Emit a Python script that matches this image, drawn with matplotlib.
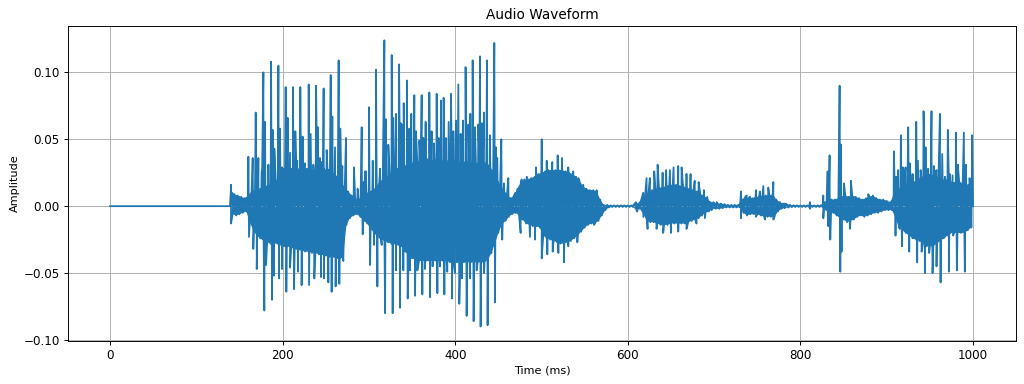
import numpy as np
import matplotlib
matplotlib.use("Agg")
import matplotlib.pyplot as plt

# Amplitudes are in thousandths; times in ms
silence_t = [0, 60, 139]
silence_a = [0, 0, 0]

core_hi_start, core_step = 140, 4
core_hi = [
    12, 9, 8, 7, 6, 8, 11, 12, 13, 14,
    15, 16, 17, 19, 21, 22, 23, 25, 26, 27,
    28, 27, 28, 28, 27, 28, 26, 28, 27, 26,
    24, 22, 18, 14, 11, 8, 6, 5, 7, 9,
    11, 12, 14, 18, 20, 22, 24, 26, 28, 30,
    30, 31, 32, 33, 34, 33, 34, 35, 34, 35,
    35, 34, 35, 34, 33, 34, 33, 34, 33, 34,
    33, 32, 33, 32, 33, 30, 26, 22, 16, 12,
    9, 6, 8, 13, 18, 20, 20, 21, 22, 24,
    25, 26, 27, 27, 27, 27, 27, 26, 25, 24,
    22, 19, 15, 13, 12, 12, 11, 5, 1, 1,
    .6, .6, .6, .6, .6, .6, .6, 2, 2, 6,
    8, 10, 12, 13, 14, 14, 15, 16, 16, 16,
    15, 15, 14, 13, 12, 11, 9, 8, 6, 3,
    2.5, 2, 2, 1.5, 1, 1, 1, 1, 5, 7,
    6, 6, 7, 7, 8, 8, 8, 9, 5, 3,
    2, 1.5, 1, .7, .6, .6, .6, .6, .6, .6,
    .6, .8, 3, 5, 5, 5, 6, 7, 8, 7,
    8, 7, 6, 5, 6, 7, 8, 6, 5, 5,
    4, 3, 8, 12, 14, 15, 16, 17, 18, 20,
    22, 22, 24, 24, 22, 22, 20, 20, 20, 18,
    18, 18, 17, 16, 16,
]
core_lo = [
    6, 7, 6, 5, 4, 12, 18, 22, 24, 26,
    27, 28, 28, 28, 29, 30, 30, 31, 32, 33,
    33, 34, 34, 35, 35, 36, 36, 37, 38, 38,
    39, 40, 38, 14, 9, 7, 6, 8, 11, 13,
    17, 20, 23, 25, 26, 27, 28, 28, 29, 30,
    34, 37, 39, 40, 41, 41, 41, 41, 41, 41,
    41, 41, 41, 42, 42, 42, 42, 42, 42, 42,
    42, 42, 42, 42, 40, 35, 28, 20, 14, 11,
    8, 6, 5, 7, 10, 13, 14, 15, 15, 16,
    22, 24, 25, 26, 27, 28, 28, 27, 26, 24,
    22, 19, 16, 14, 13, 13, 11, 7, 3, 1,
    .6, .6, .6, .6, .6, .6, .6, 3, 2, 6,
    11, 12, 12, 13, 14, 14, 14, 13, 13, 13,
    13, 13, 12, 11, 10, 9, 7, 5, 4, 2,
    2, 2, 1.5, 1, 1, 1, 1, 1, 5, 7,
    6, 6, 6, 7, 8, 8, 8, 8, 4, 2,
    1.5, 1, .7, .6, .6, .6, .6, .6, .6, .6,
    .6, .8, 3, 4, 5, 7, 9, 10, 12, 11,
    10, 8, 7, 8, 7, 6, 5, 5, 4, 3,
    3, 3, 8, 16, 18, 20, 22, 24, 25, 26,
    28, 30, 30, 30, 28, 26, 24, 22, 20, 20,
    20, 20, 20, 18, 16,
]

peak_t = [
    140.2, 160.3, 165.3, 168.8, 171.9, 177.7, 179.6, 186.6, 188.5, 190.4, 195.1, 197, 199.3,
    203.5, 205.9, 208.6, 212, 214.7, 217, 220.5, 223.2, 230.2, 232.5, 238.7, 241, 243.3,
    247.5, 251, 255.7, 257.6, 260.7, 264.9, 266.8, 269.2, 273.4, 282.7, 286.9,
    291.6, 293.9, 296.6, 300.1, 308.2, 317.9, 319.8, 326.4, 328.3, 334.9, 336.8, 340.3, 344.1,
    349.1, 352.6, 361.1, 365.7, 370, 378.5, 383.5, 386.6, 392.4, 395.1, 400.9, 403.6, 409, 412,
    417.5, 420.2, 428.7, 433.3, 436.8, 445.3, 447.2, 453.4, 456.5, 461.5,
    469.7, 477, 482.8, 493.6, 500.2, 506, 512.5, 518.7, 523.7, 531, 536.8, 542.6, 548.4, 556.1,
    563.8, 567.7, 609.4, 617.9, 621.7, 625.5, 630.6, 634.5, 640.3, 644.4, 648.8, 653, 658.4,
    662.3, 668, 672.7, 677.5, 682, 688.1, 692, 699, 703,
    731.1, 737.7, 741.6, 748.5, 753.1, 757, 762.8, 768.6, 776.3, 782, 811, 826.5, 831.5, 833.8,
    845.4, 846.9, 850.4, 858.5, 878.6, 908.3, 911, 916.4, 918.7, 924.9, 926.8, 934.2, 936.1,
    942.7, 945, 951.9, 954.5, 961.6, 964.3, 970.8, 973.2, 980.1, 982.4, 989.4, 991.7, 996, 999,
]
peak_a = [
    16, 37, 36, 70, 36, 100, 63, 108, 57, 43, 105, 58, 29,
    89, 66, 40, 89, 56, 34, 89, 52, 91, 54, 90, 59, 36,
    88, 42, 98, 67, 44, 109, 58, 30, 51, 29, 13,
    59, 18, 26, 74, 102, 124, 65, 113, 66, 106, 62, 77, 94,
    69, 83, 83, 63, 85, 84, 79, 81, 63, 84, 64, 91, 64, 104,
    69, 109, 112, 70, 109, 122, 44, 50, 17, 21,
    10, 20, 22, 29, 50, 34, 33, 38, 36, 29, 26, 21, 16, 12,
    12, 3, 3, 10, 21, 21, 26, 31, 25, 27, 27, 29, 30,
    29, 24, 24, 19, 18, 12, 7, 3, 3,
    11, 8, 7, 12, 11, 15, 14, 18, 3, 2, 3, 8, 26, 38,
    90, 46, 17, 19, 9, 41, 22, 53, 29, 59, 32, 63, 34,
    71, 44, 71, 30, 69, 39, 57, 24, 55, 31, 55, 31, 21, 53,
]
trough_t = [
    140.2, 161, 166, 170, 178.8, 180.8, 187.7, 190, 195.8, 199.3, 204.3, 208.6, 213.2, 217.8,
    222, 230.6, 236.7, 244.5, 247.9, 253, 256.8, 261.4, 265.7, 270.3,
    292.8, 301.3, 309.8, 318.7, 327.5, 336, 344.9, 353.4, 361.9, 370.8, 379.3, 387.4, 396.2,
    404.7, 413.2, 421.3, 429.4, 437.5, 446, 454.5, 459.6,
    475.8, 486.6, 492.4, 500.2, 506.7, 512.9, 519.5, 526, 531, 541.5, 548.4, 560.8, 565.8,
    611, 618, 622.9, 633.3, 641, 649.9, 658.4, 668, 679.6, 689.3, 697,
    731.1, 748.5, 758.9, 768.6, 811, 826.5, 832.3, 834.6, 846.2, 847.7, 857.4,
    910.2, 917.6, 926.1, 935.3, 944.2, 953.1, 962.4, 972, 981.3, 990.5, 998.2,
]
trough_a = [
    13, 23, 32, 47, 78, 44, 70, 52, 54, 47, 64, 46, 62, 49,
    59, 59, 54, 53, 54, 57, 64, 60, 58, 41,
    21, 44, 60, 80, 80, 76, 69, 67, 66, 68, 65, 66, 69,
    73, 82, 86, 90, 89, 72, 25, 9,
    20, 23, 25, 39, 36, 34, 35, 42, 30, 27, 15, 14, 8,
    4, 8, 17, 17, 20, 20, 19, 17, 13, 9, 3,
    9, 8, 10, 10, 2, 9, 15, 25, 49, 34, 17,
    22, 30, 34, 42, 50, 50, 57, 49, 48, 49, 15,
]
# Shorter strokes between the main spikes
minor_peak_t = [
    175.8, 183.5, 193.1, 201.6, 210.5, 219.4, 225.9, 235.6, 245.2, 253,
    295.5, 304.4, 312.9, 322.5, 331.4, 338.7, 346.8, 354.5, 358.4, 363, 372.7, 375.4, 380.8,
    389.3, 397.8, 406.3, 415.2, 422.9, 426.7, 430.6, 440.2, 448.7,
    913.3, 921.8, 930, 939.2, 948, 957.7, 967.4, 976.3, 985.5, 994.4,
]
minor_peak_a = [
    26, 31, 18, 28, 28, 28, 32, 31, 33, 27,
    26, 34, 28, 46, 69, 61, 58, 56, 49, 51, 56, 47, 51,
    51, 56, 54, 61, 59, 61, 62, 53, 36,
    27, 29, 24, 27, 28, 27, 22, 23, 17, 16,
]
minor_trough_t = [
    305.9, 314.8, 331.4, 339.9, 347.6, 356.1, 365, 373.8, 382.3, 390.8, 399.7, 407.8, 417.1,
    424.8, 433.3, 442.2,
    915.3, 923, 931.5, 940.4, 949.2, 957.7, 967.4, 977, 986.7,
]
minor_trough_a = [
    29, 29, 48, 48, 48, 48, 47, 45, 45, 49, 50, 54, 54,
    48, 50, 29,
    17, 18, 24, 34, 35, 45, 23, 22, 18,
]
end_t = [1000]
end_a = [0]

core_hi_t = np.array([core_hi_start + core_step * i for i in range(len(core_hi))], dtype=float)
core_lo_t = core_hi_t + 2
core_hi_a = np.array(core_hi) / 1000
core_lo_a = -np.array(core_lo) / 1000

time = np.concatenate([silence_t, core_hi_t, core_lo_t, peak_t, trough_t,
                       minor_peak_t, minor_trough_t, end_t])
amp = np.concatenate([np.array(silence_a) / 1000, core_hi_a, core_lo_a,
                      np.array(peak_a) / 1000, -np.array(trough_a) / 1000,
                      np.array(minor_peak_a) / 1000, -np.array(minor_trough_a) / 1000,
                      np.array(end_a) / 1000])
order = np.argsort(time, kind="stable")

fig, ax = plt.subplots(figsize=(12, 4.5), dpi=1024 / 12)
fig.subplots_adjust(left=68 / 1024, right=1016 / 1024, top=1 - 26 / 384, bottom=1 - 341 / 384)
line, = ax.plot(time[order], amp[order])
ax.fill(np.concatenate([core_hi_t, core_lo_t[::-1]]), np.concatenate([core_hi_a, core_lo_a[::-1]]),
        color=line.get_color(), linewidth=0)
ax.set_xlim(-48.7, 1049.8)
ax.set_ylim(-0.1008, 0.1347)
ax.set_title("Audio Waveform", fontsize=11.5)
ax.set_xlabel("Time (ms)", fontsize=9.5, labelpad=2.3)
ax.set_ylabel("Amplitude", fontsize=9.5, labelpad=2.5)
ax.grid(True)
fig.savefig("out.png", dpi=1024 / 12)
